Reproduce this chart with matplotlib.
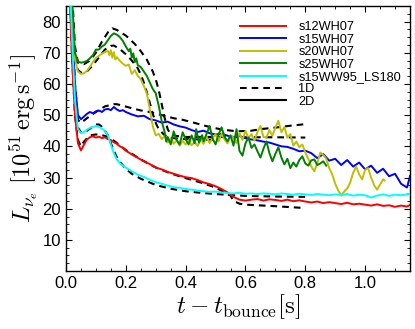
import numpy as np
import matplotlib
matplotlib.use("Agg")
import matplotlib.pyplot as plt
from matplotlib.ticker import AutoMinorLocator
from matplotlib.lines import Line2D

plt.rcParams['font.family'] = ['Liberation Sans', 'DejaVu Sans']
plt.rcParams['mathtext.fontset'] = 'cm'

# ---------------- data ----------------
t_2d = [0.00, 0.01, 0.02, 0.03, 0.04, 0.05, 0.06, 0.07, 0.08, 0.09,
        0.10, 0.11, 0.12, 0.13, 0.14, 0.15, 0.16, 0.17, 0.18, 0.19,
        0.20, 0.22, 0.24, 0.26, 0.28, 0.30, 0.32, 0.34, 0.36, 0.38,
        0.40, 0.42, 0.44, 0.46, 0.48, 0.50, 0.52, 0.54, 0.56, 0.58,
        0.60, 0.62, 0.64, 0.66, 0.68, 0.70, 0.72, 0.74, 0.76, 0.78,
        0.80, 0.82, 0.84, 0.86, 0.88, 0.90, 0.92, 0.94, 0.96, 0.98,
        1.00, 1.02, 1.04, 1.06, 1.08, 1.10, 1.12, 1.14, 1.15]

s12_2d = [130, 95, 68, 50, 41, 38.7, 40.5, 42.2, 42.9, 43.2,
          42.8, 43.1, 42.6, 42.9, 42.3, 42.0, 41.3, 40.8, 40.0, 39.5,
          38.6, 37.4, 36.3, 35.2, 34.3, 33.2, 32.6, 31.8, 31.2, 30.6,
          30.1, 29.8, 29.2, 28.4, 27.9, 27.2, 26.3, 25.2, 23.8, 22.9,
          22.6, 22.9, 23.1, 22.6, 23.0, 22.8, 22.5, 22.9, 22.4, 22.7,
          22.3, 22.0, 22.3, 21.8, 22.1, 21.8, 21.5, 21.9, 21.4, 21.6,
          21.3, 21.0, 21.4, 20.9, 21.1, 20.6, 21.0, 20.7, 21.2]

s15ww_2d = [130, 100, 75, 55, 45.5, 44.2, 44.6, 45.3, 45.9, 46.2,
            46.5, 46.2, 45.7, 45.0, 43.5, 40.5, 37.8, 35.8, 34.6, 33.8,
            33.2, 32.0, 30.9, 30.2, 29.3, 28.5, 28.0, 27.4, 26.9, 26.7,
            26.3, 26.1, 25.8, 25.6, 25.4, 25.5, 25.2, 25.0, 24.9, 25.1,
            24.8, 24.9, 24.7, 24.9, 24.8, 24.6, 24.9, 24.7, 24.5, 24.8,
            24.6, 24.4, 24.7, 24.5, 24.3, 24.6, 24.4, 24.7, 24.2, 24.5,
            24.3, 23.6, 24.2, 24.6, 24.1, 24.5, 24.3, 24.6, 24.8]

s15_2d = [130, 105, 80, 60, 50, 48.7, 49.5, 50.4, 51.0, 50.6,
          51.2, 51.5, 51.0, 51.8, 52.0, 51.6, 52.6, 51.8, 51.3, 51.6,
          51.0, 50.2, 49.6, 49.8, 48.7, 48.3, 47.6, 47.9, 47.0, 46.4,
          46.0, 45.2, 44.6, 45.0, 44.2, 43.8, 44.0, 43.4, 43.0, 43.3,
          42.6, 42.2, 41.9, 41.5, 41.2, 40.6, 40.0, 39.8, 39.2, 38.4,
          38.6, 37.8, 36.2, 37.5, 35.4, 36.0, 34.0, 35.6, 33.5, 34.8,
          32.6, 33.8, 31.5, 32.8, 30.4, 31.2, 28.0, 26.8, 30.5]

t_s20_2d = [0.00, 0.01, 0.02, 0.03, 0.04, 0.05, 0.06, 0.07, 0.08, 0.09,
            0.10, 0.11, 0.12, 0.13, 0.14, 0.145, 0.15, 0.155, 0.16, 0.165,
            0.17, 0.18, 0.19, 0.20, 0.21, 0.22, 0.23, 0.24, 0.25, 0.26,
            0.27, 0.28, 0.29, 0.30, 0.31, 0.32, 0.33, 0.34, 0.35, 0.36,
            0.37, 0.38, 0.39, 0.40, 0.41, 0.42, 0.43, 0.44, 0.45, 0.46,
            0.47, 0.48, 0.49, 0.50, 0.51, 0.52, 0.53, 0.54, 0.55, 0.56,
            0.57, 0.58, 0.59, 0.60, 0.61, 0.62, 0.63, 0.64, 0.65, 0.66,
            0.67, 0.68, 0.69, 0.70, 0.71, 0.72, 0.73, 0.74, 0.75, 0.76,
            0.77, 0.78, 0.79, 0.80, 0.81, 0.82, 0.83, 0.84, 0.85, 0.86,
            0.87, 0.88, 0.89, 0.90, 0.91, 0.92, 0.93, 0.94, 0.95, 0.96,
            0.97, 0.98, 0.99, 1.00, 1.01, 1.02, 1.03, 1.04, 1.05, 1.06,
            1.065]
s20_2d = [150, 115, 85, 68, 64, 63.2, 63.4, 64.2, 65.5, 67.0,
          68.3, 69.0, 69.7, 70.2, 70.6, 69.2, 70.8, 68.4, 70.2, 67.8,
          68.6, 67.4, 66.5, 65.8, 66.2, 63.2, 64.4, 62.6, 61.5, 59.4,
          57.0, 52.0, 46.5, 43.5, 44.0, 42.3, 43.4, 41.2, 42.6, 40.8,
          41.9, 40.2, 41.7, 40.6, 42.0, 40.3, 41.4, 40.1, 42.3, 40.8,
          43.1, 41.0, 42.6, 43.9, 41.5, 44.0, 42.2, 40.9, 43.5, 42.8,
          41.0, 44.2, 42.0, 45.0, 42.6, 43.9, 41.8, 44.6, 46.5, 43.0,
          42.8, 45.2, 43.4, 46.0, 48.2, 44.5, 46.2, 42.8, 43.9, 40.2,
          41.5, 39.7, 40.6, 38.0, 36.0, 33.5, 32.0, 34.5, 38.0, 37.2,
          36.0, 33.0, 31.0, 28.0, 25.8, 24.2, 25.5, 26.5, 28.4, 31.5,
          33.5, 31.0, 29.4, 32.5, 33.0, 30.0, 27.5, 26.1, 27.8, 29.4,
          29.0]

t_s25_2d = [0.00, 0.01, 0.02, 0.03, 0.04, 0.05, 0.06, 0.07, 0.08, 0.09,
            0.10, 0.11, 0.12, 0.13, 0.14, 0.15, 0.16, 0.17, 0.18, 0.19,
            0.20, 0.21, 0.215, 0.22, 0.225, 0.23, 0.235, 0.24, 0.25, 0.26,
            0.27, 0.28, 0.29, 0.30, 0.31, 0.32, 0.33, 0.335, 0.34, 0.35,
            0.36, 0.37, 0.38, 0.39, 0.40, 0.41, 0.42, 0.43, 0.435, 0.445,
            0.455, 0.46, 0.47, 0.48, 0.49, 0.50, 0.51, 0.52, 0.53, 0.54,
            0.55, 0.56, 0.57, 0.58, 0.59, 0.60, 0.61, 0.62, 0.63, 0.64,
            0.65, 0.66, 0.67, 0.68, 0.69, 0.70, 0.71, 0.72, 0.73, 0.74,
            0.75, 0.76, 0.77, 0.78, 0.79, 0.80, 0.81, 0.82, 0.83, 0.84,
            0.85, 0.86, 0.87]
s25_2d = [150, 118, 88, 70, 67.2, 66.8, 67.0, 67.4, 68.2, 69.2,
          71.0, 71.0, 72.0, 72.6, 74.0, 75.4, 76.2, 75.8, 75.0, 73.8,
          72.0, 70.5, 71.3, 68.4, 69.8, 67.0, 68.2, 66.0, 65.4, 64.0,
          62.6, 60.5, 58.4, 57.0, 53.0, 48.0, 44.5, 41.5, 43.0, 40.6,
          44.8, 42.0, 40.6, 44.5, 42.2, 40.6, 43.5, 41.0, 45.5, 41.2,
          43.6, 41.6, 44.0, 46.5, 42.5, 40.6, 43.8, 46.1, 43.0, 41.6,
          43.5, 40.2, 45.5, 38.5, 37.0, 41.0, 42.8, 39.5, 40.6, 38.4,
          36.4, 39.2, 41.6, 37.8, 35.2, 37.6, 39.7, 36.4, 34.2, 36.0,
          33.0, 34.8, 33.5, 35.6, 36.8, 34.5, 33.8, 35.5, 35.8, 34.0,
          34.5, 35.2, 33.8]

t_s12_1d = [0.00, 0.02, 0.03, 0.04, 0.05, 0.06, 0.08, 0.10, 0.12, 0.14,
            0.16, 0.18, 0.20, 0.25, 0.30, 0.35, 0.40, 0.45, 0.50, 0.53,
            0.55, 0.56, 0.58, 0.60, 0.70, 0.80]
s12_1d = [130, 70, 50, 42, 40, 41.5, 43.5, 43.8, 43.6, 43.0,
          41.8, 40.3, 38.8, 35.8, 33.2, 31.3, 29.8, 28.4, 26.8, 25.2,
          24.2, 22.5, 21.6, 21.3, 20.8, 20.2]

t_s15ww_1d = [0.00, 0.02, 0.03, 0.04, 0.05, 0.07, 0.09, 0.10, 0.11, 0.12,
              0.13, 0.14, 0.15, 0.16, 0.17, 0.18, 0.20, 0.22, 0.25, 0.30,
              0.35, 0.40, 0.45, 0.50, 0.55, 0.60, 0.70, 0.80]
s15ww_1d = [130, 75, 55, 46, 44.5, 45, 46.3, 47, 47, 46.3,
            45, 43.5, 41, 38.5, 36.5, 35, 32.8, 31.2, 29.6, 27.6,
            26.4, 25.6, 25.1, 24.7, 24.4, 24.1, 23.9, 23.8]

t_s15_1d = [0.00, 0.02, 0.03, 0.04, 0.05, 0.07, 0.10, 0.13, 0.16, 0.17,
            0.19, 0.22, 0.25, 0.28, 0.32, 0.36, 0.39, 0.43, 0.48, 0.52,
            0.57, 0.62, 0.65, 0.70, 0.75, 0.80]
s15_1d = [130, 80, 60, 48.5, 47.5, 49, 51, 52.8, 53.5, 53.5,
          53, 52.2, 51.5, 51, 50, 49, 48.5, 47.5, 46.2, 45.4,
          44.8, 45.0, 45.5, 46.0, 46.6, 47.1]

t_s20_1d = [0.00, 0.02, 0.03, 0.04, 0.05, 0.07, 0.09, 0.11, 0.13, 0.15,
            0.16, 0.18, 0.20, 0.22, 0.24, 0.25, 0.26, 0.27, 0.28, 0.29,
            0.30, 0.31, 0.33, 0.36, 0.40, 0.45, 0.50]
s20_1d = [150, 85, 68, 64.5, 63.6, 64.0, 66.0, 68.5, 71.0, 72.2,
          72.3, 71.2, 69.5, 67.5, 65.0, 63.0, 60.5, 57.4, 54.0, 50.5,
          47.5, 45.5, 43.5, 42.6, 42.3, 42.2, 42.1]

t_s25_1d = [0.00, 0.02, 0.03, 0.04, 0.06, 0.08, 0.10, 0.12, 0.14, 0.155,
            0.17, 0.20, 0.23, 0.25, 0.27, 0.29, 0.30, 0.31, 0.32, 0.33,
            0.34, 0.35, 0.37, 0.40, 0.50, 0.60, 0.70, 0.80]
s25_1d = [150, 90, 72, 66.8, 66.3, 67.5, 70.0, 73.5, 76.5, 77.8,
          77.3, 75.5, 72.8, 70.5, 67.8, 64.0, 61.5, 58.0, 53.5, 49.0,
          45.5, 43.8, 43.3, 43.0, 43.0, 42.9, 42.9, 42.8]

labels = ['s12WH07', 's15WH07', 's20WH07', 's25WH07', 's15WW95_LS180']
colors = ['#ff0000', '#0000ff', '#bfbf00', '#008000', '#00ffff']

x_ticks = [0.0, 0.2, 0.4, 0.6, 0.8, 1.0]
y_ticks = [10, 20, 30, 40, 50, 60, 70, 80]

# ---------------- plot ----------------
fig = plt.figure(figsize=(4.15, 3.29), dpi=100)
ax = fig.add_axes([0.159, 0.176, 0.829, 0.806])

lw = 1.4
dash = (0, (3.2, 2.4))
for tt, yy in [(t_s12_1d, s12_1d), (t_s15_1d, s15_1d), (t_s20_1d, s20_1d),
               (t_s25_1d, s25_1d), (t_s15ww_1d, s15ww_1d)]:
    ax.plot(tt, yy, color='black', lw=1.5, ls=dash, zorder=2)

series_2d = [(t_2d, s12_2d), (t_2d, s15_2d), (t_s20_2d, s20_2d),
             (t_s25_2d, s25_2d), (t_2d, s15ww_2d)]
for (tt, yy), c in zip(series_2d, colors):
    ax.plot(tt, yy, color=c, lw=lw, zorder=3)

ax.set_xlim(0, 1.15)
ax.set_ylim(0, 85)
ax.set_xticks(x_ticks)
ax.set_yticks(y_ticks)
ax.xaxis.set_minor_locator(AutoMinorLocator(4))
ax.yaxis.set_minor_locator(AutoMinorLocator(4))
ax.tick_params(which='both', direction='in', top=True, right=True)
ax.tick_params(which='major', length=4, width=0.8, labelsize=12)
ax.tick_params(which='minor', length=2, width=0.6)
for sp in ax.spines.values():
    sp.set_linewidth(1.0)

ax.set_xlabel(r'$t-t_{\mathrm{bounce}}[\mathrm{s}]$', fontsize=18, labelpad=1)
ax.set_ylabel(r'$L_{\nu_e}\;[10^{51}\,\mathrm{erg\,s^{-1}}]$', fontsize=17.5, labelpad=2)

handles = [Line2D([], [], color=c, lw=lw) for c in colors]
handles += [Line2D([], [], color='black', lw=1.5, ls=dash),
            Line2D([], [], color='black', lw=1.5)]
leg_labels = labels + ['1D', '2D']
ax.legend(handles, leg_labels, loc='upper right', bbox_to_anchor=(1.0, 0.975),
          frameon=False, fontsize=9.2, handlelength=3.6, handletextpad=1.0,
          labelspacing=0.03, borderaxespad=0.3)

fig.savefig('out.png', dpi=100)
